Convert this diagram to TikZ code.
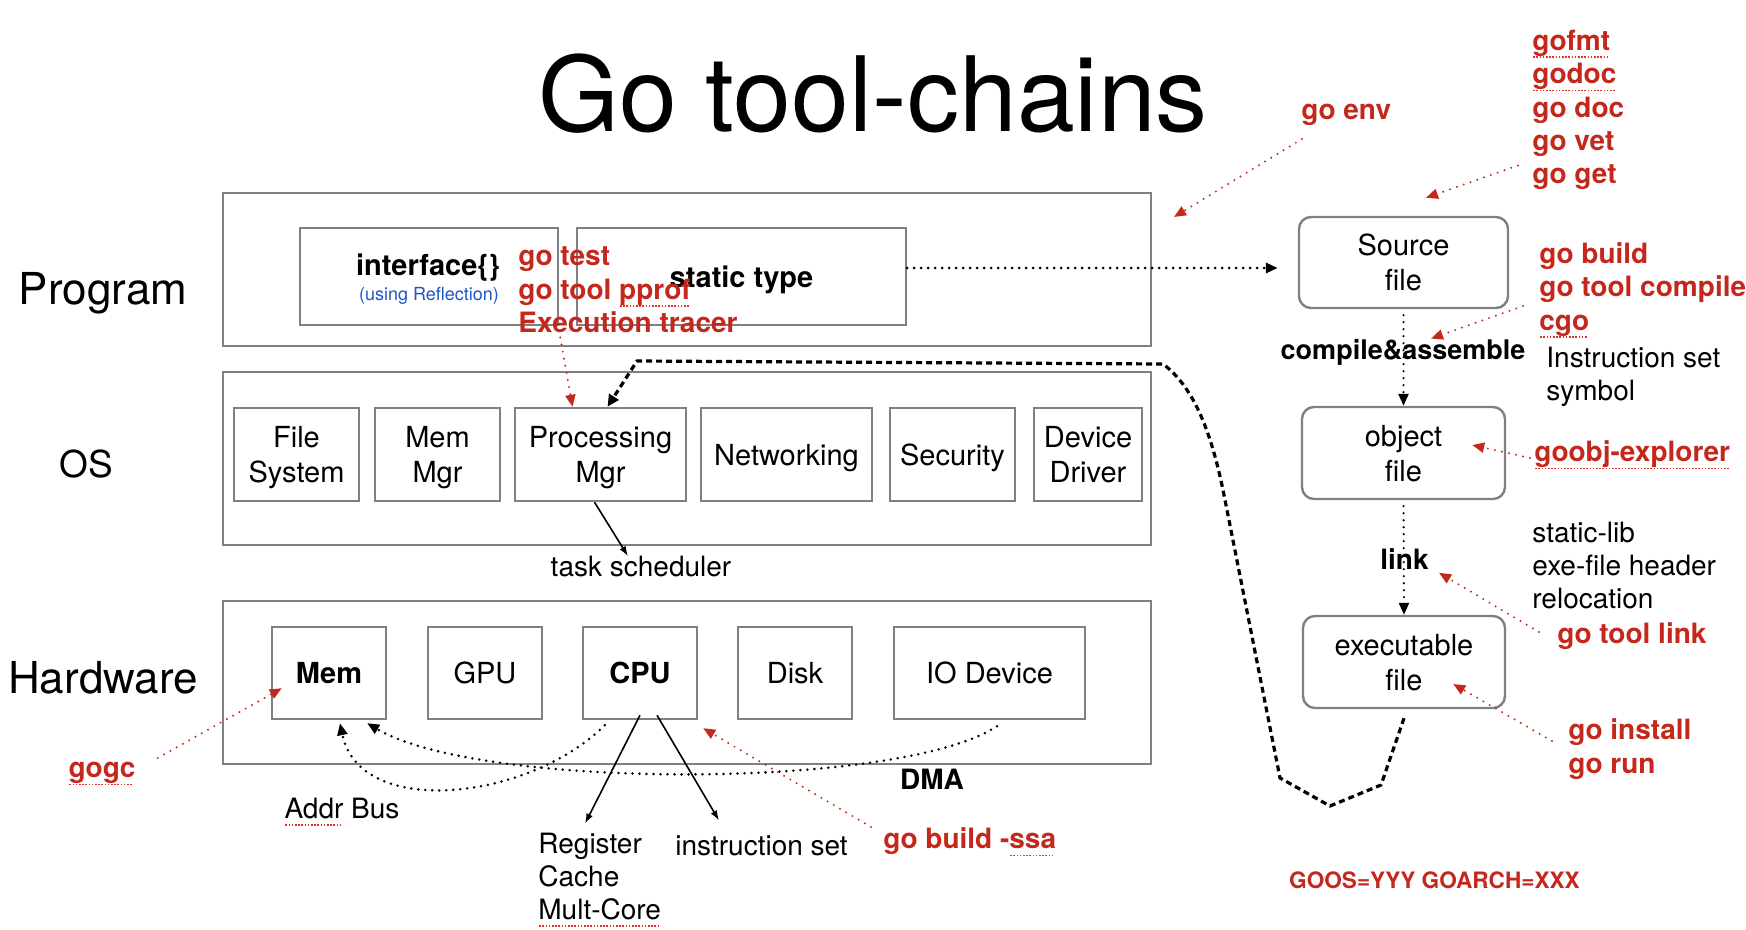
\documentclass[tikz,border=0pt]{standalone}
\usepackage{fontspec}
\setmainfont{TeX Gyre Heros}
\usepackage{xcolor}
\usetikzlibrary{positioning}
\usetikzlibrary{arrows.meta}
\usetikzlibrary{calc}

\definecolor{toolred}{RGB}{196,40,28}
\definecolor{boxgray}{RGB}{128,128,132}
\definecolor{refblue}{RGB}{30,85,200}
\definecolor{spellred}{RGB}{230,45,45}

\newcommand\fnttitle{\fontsize{52}{60}\selectfont}
\newcommand\fntside{\fontsize{22}{26}\selectfont}
\newcommand\fntbox{\fontsize{14.5}{17.5}\selectfont}
\newcommand\fntlbl{\fontsize{14}{16.5}\selectfont}
\newcommand\fnttool{\fontsize{14}{16.7}\selectfont\bfseries}
\newcommand\fntgoos{\fontsize{11.3}{13}\selectfont\bfseries}
% dotted spell-check mark under a word
\newcommand\spell[1]{\setbox0=\hbox{#1}\leavevmode\rlap{\copy0}\raisebox{-0.27em}{\color{spellred}\leaders\hbox to 1.6pt{\hss\vrule width 0.8pt height 0.8pt\hss}\hskip\wd0}}

\tikzset{
  box/.style={draw=boxgray, line width=1.2pt, inner sep=0pt, align=center, text depth=0pt, font=\fntbox},
  fbox/.style={box, rounded corners=6pt},
  side/.style={inner sep=0pt, anchor=base, font=\fntside},
  lbl/.style={inner sep=0pt, align=left, font=\fntlbl},
  tool/.style={inner sep=0pt, align=left, text=toolred, font=\fnttool},
  redarr/.style={toolred, line width=1.1pt, dash pattern=on 0pt off 3.6pt, line cap=round, -{Triangle[length=6pt,width=5pt]}},
  blkdot/.style={black, line width=1.5pt, dash pattern=on 0pt off 3.5pt, line cap=round, -{Triangle[length=6pt,width=5pt]}},
  bigdash/.style={black, line width=1.6pt, dash pattern=on 3pt off 2pt, -{Triangle[length=6pt,width=5.5pt]}},
  blkarr/.style={black, line width=0.8pt, -{Latex[length=5pt,width=3.5pt]}}
}

\begin{document}
\begin{tikzpicture}[x=0.5pt,y=-0.5pt]
\useasboundingbox (0,0) rectangle (1746,930);
\node[anchor=base, inner sep=0pt, font=\fnttitle] (title) at (873,132) {Go tool-chains};

% layers
\node[box, minimum width=464pt, minimum height=76.5pt] (prog) at (687,269.5) {};
\node[box, minimum width=464pt, minimum height=86.5pt] (os) at (687,458.5) {};
\node[box, minimum width=464pt, minimum height=81.5pt] (hw) at (687,682.5) {};
\node[side] (proglbl) at (103,305) {Program};
\node[side, font=\fontsize{18.5}{22}\selectfont] (oslbl) at (86,478) {OS};
\node[side] (hwlbl) at (103,693) {Hardware};

% program
\node[box, minimum width=129pt, minimum height=48.5pt] (iface) at (429,276.5) {};
\node[lbl, font=\fntbox\bfseries] (ifacelbl) at (428,268) {interface\{\}};
\node[lbl, text=refblue, font=\fontsize{9}{11}\selectfont] (refllbl) at (429,296) {(using Reflection)};
\node[box, minimum width=164.5pt, minimum height=48.5pt, font=\fntbox\bfseries] (static) at (741.5,276.5) {static type};

% os
\node[box, minimum width=62.5pt, minimum height=46.5pt] (fs) at (296.5,454.5) {File\\System};
\node[box, minimum width=62.5pt, minimum height=46.5pt] (mm) at (437.5,454.5) {Mem\\Mgr};
\node[box, minimum width=85.5pt, minimum height=46.5pt] (pm) at (600.5,454.5) {Processing\\Mgr};
\node[box, minimum width=85.5pt, minimum height=46.5pt] (net) at (786.5,454.5) {Networking};
\node[box, minimum width=62.5pt, minimum height=46.5pt] (sec) at (952.5,454.5) {Security};
\node[box, minimum width=54pt, minimum height=46.5pt] (dd) at (1088,454.5) {Device\\Driver};
\node[lbl] (task) at (641,567) {task scheduler};

% hardware
\node[box, minimum width=57pt, minimum height=46pt, font=\fntbox\bfseries] (mem) at (329,673) {Mem};
\node[box, minimum width=57pt, minimum height=46pt] (gpu) at (485,673) {GPU};
\node[box, minimum width=57pt, minimum height=46pt, font=\fntbox\bfseries] (cpu) at (640,673) {CPU};
\node[box, minimum width=57pt, minimum height=46pt] (disk) at (795,673) {Disk};
\node[box, minimum width=95.5pt, minimum height=46pt] (io) at (989.5,673) {IO Device};
\node[lbl] (addr) at (342,812) {\spell{Addr} Bus};
\node[lbl, anchor=west] (regs) at (538,880) {Register\\Cache\\\spell{Mult-Core}};
\node[lbl, anchor=west] (iset) at (675,846) {instruction set};
\node[lbl, font=\fnttool] (dma) at (932,779) {DMA};

% files
\node[fbox, minimum width=104.5pt, minimum height=45.5pt] (src) at (1403.5,262.5) {Source\\file};
\node[fbox, minimum width=101.5pt, minimum height=46pt] (obj) at (1403.5,453) {object\\file};
\node[fbox, minimum width=101pt, minimum height=46pt] (exe) at (1404,662) {executable\\file};
\node[lbl, font=\fontsize{13.5}{16}\selectfont\bfseries] (comp) at (1403,352) {compile\&assemble};
\node[lbl, font=\fnttool] (link) at (1404.5,559) {link};
\node[lbl, anchor=west] (isym) at (1546,377) {Instruction set\\symbol};
\node[lbl, anchor=west] (slib) at (1532,566) {static-lib\\exe-file header\\relocation};

% tools
\node[tool, anchor=west] (tests) at (518,290) {go test\\go tool \spell{pprof}\\Execution tracer};
\node[tool, anchor=west] (goenv) at (1301,115) {go env};
\node[tool, anchor=west] (fmts) at (1532,110) {\spell{gofmt}\\\spell{godoc}\\go doc\\go vet\\go get};
\node[tool, anchor=west] (builds) at (1539,290) {go build\\go tool compile\\\spell{cgo}};
\node[tool, anchor=west] (goobj) at (1534,455) {\spell{goobj-explorer}};
\node[tool, anchor=west] (toollink) at (1557,636) {go tool link};
\node[tool, anchor=west] (install) at (1568,749) {go install\\go run};
\node[tool, anchor=west] (ssa) at (883,842) {go build -\spell{ssa}};
\node[tool] (gogc) at (102,774) {\spell{gogc}};
\node[tool, font=\fntgoos] (goos) at (1434.5,880) {GOOS=YYY GOARCH=XXX};
\coordinate (envtip) at (1174,217);

% build flow
\draw[blkdot, shorten >=10pt] ($(static.east |- src.west)+(0,-2.75pt)$) -- ($(src.west)+(0,-2.75pt)$);
\draw[blkdot, line width=1.2pt, shorten <=3pt] (src.south) -- (obj.north);
\draw[blkdot, line width=1.2pt, shorten <=3pt] (obj.south) -- (exe.north);
\draw[bigdash] ([yshift=-4.5pt]exe.south) -- (1381,785) -- (1330,806) -- (1280,778) -- (1224,495) .. controls (1212,435) and (1195,388) .. (1163,364) -- (637,361) -- ([xshift=3.5pt]pm.north);
\draw[blkarr] ([xshift=-3pt]pm.south) -- ([xshift=-6.5pt]task.north);

% hardware links
\draw[blkdot, line width=1.4pt] ([shift={(11.5pt,-2.5pt)}]cpu.south west) .. controls (530,800) and (360,820) .. ([shift={(5.5pt,-1.5pt)}]mem.south);
\draw[blkdot, line width=1.4pt] ([shift={(3.75pt,-3pt)}]io.south) .. controls (900,790) and (480,790) .. ([shift={(-10pt,-1.5pt)}]mem.south east);
\draw[blkarr] ([yshift=2.5pt]cpu.south) -- ([shift={(23.5pt,4.5pt)}]regs.north west);
\draw[blkarr] ([shift={(8.5pt,2.5pt)}]cpu.south) -- ([shift={(22pt,7.5pt)}]iset.north west);

% tool arrows
\draw[redarr] ([shift={(20.5pt,1.5pt)}]tests.south west) -- ([xshift=-14pt]pm.north);
\draw[redarr] ([shift={(0.5pt,-12pt)}]goenv.west) -- (envtip);
\draw[redarr] ([shift={(-7pt,12.5pt)}]fmts.south west) -- ([shift={(11.25pt,9pt)}]src.north);
\draw[redarr] ([shift={(-8pt,-8pt)}]builds.west) -- ([xshift=14pt]comp.north);
\draw[redarr] ([shift={(-2pt,-1.5pt)}]goobj.west) -- ([shift={(-17pt,4pt)}]obj.east);
\draw[redarr] ([shift={(-9pt,2pt)}]toollink.west) -- ([shift={(5pt,-1.5pt)}]link.south east);
\draw[redarr] ([shift={(-8pt,4pt)}]install.west) -- ([shift={(-26.5pt,-11pt)}]exe.east);
\draw[redarr] ([shift={(-6pt,7.5pt)}]ssa.west) -- ([shift={(2.5pt,-4pt)}]cpu.south east);
\draw[redarr] ([shift={(11pt,8pt)}]gogc.east) -- ([shift={(5.5pt,16pt)}]mem.south west);
\end{tikzpicture}
\end{document}
